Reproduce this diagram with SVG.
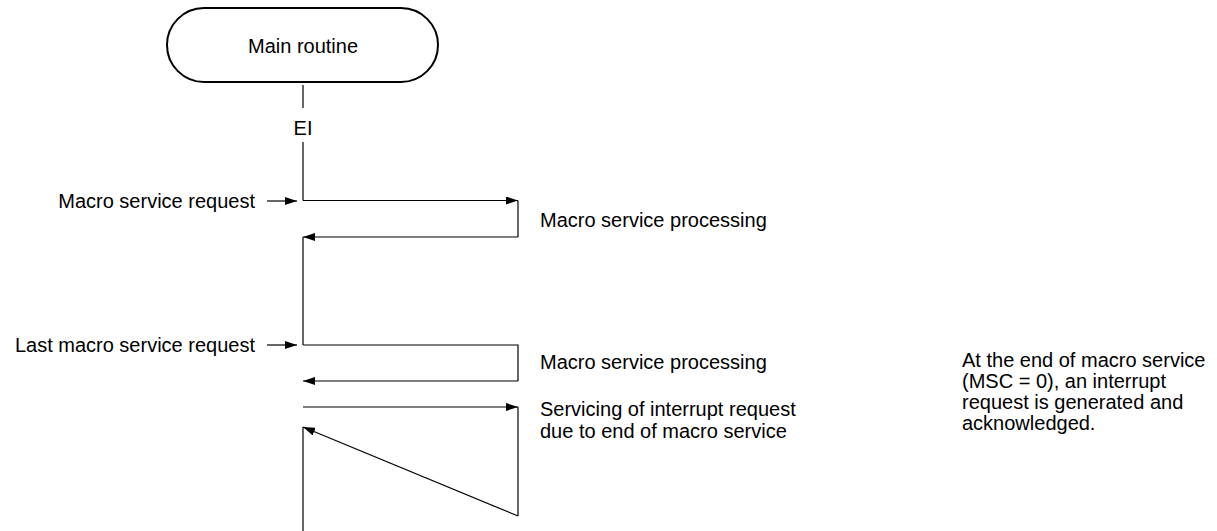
<svg xmlns="http://www.w3.org/2000/svg" width="1217" height="531" viewBox="0 0 1217 531">
<style>
text{font-family:"Liberation Sans",Arial,sans-serif;font-size:20px;fill:#000}
.ln{stroke:#000;stroke-width:1.2;fill:none}
.ar{stroke:#000;stroke-width:1.2;fill:none;marker-end:url(#ah)}
</style>
<defs>
<marker id="ah" markerUnits="userSpaceOnUse" markerWidth="12" markerHeight="8" refX="12" refY="4" orient="auto">
<path d="M0,0 L12,4 L0,8 Z" fill="#000"/>
</marker>
</defs>
<rect width="1217" height="531" fill="#fff"/>
<g id="main-routine">
<rect x="167" y="8" width="271" height="74" rx="37" ry="37" fill="#fff" stroke="#000" stroke-width="2"/>
<text x="303" y="53" text-anchor="middle">Main routine</text>
</g>
<g id="ei"><text x="303" y="135" text-anchor="middle">EI</text></g>
<g id="label-msr"><text x="255" y="208" text-anchor="end">Macro service request</text></g>
<g id="label-lmsr"><text x="255" y="352" text-anchor="end">Last macro service request</text></g>
<g id="label-msp1"><text x="540" y="227">Macro service processing</text></g>
<g id="label-msp2"><text x="540" y="369">Macro service processing</text></g>
<g id="label-servicing"><text x="540" y="416">Servicing of interrupt request</text><text x="540" y="438">due to end of macro service</text></g>
<g id="note">
<text x="962" y="367">At the end of macro service</text>
<text x="962" y="388">(MSC = 0), an interrupt</text>
<text x="962" y="409">request is generated and</text>
<text x="962" y="430">acknowledged.</text>
</g>
<g id="connectors">
<line class="ln" x1="303" y1="85" x2="303" y2="108"/>
<line class="ln" x1="303" y1="142" x2="303" y2="200.5"/>
<line class="ar" x1="303" y1="200.5" x2="518" y2="200.5"/>
<line class="ln" x1="518" y1="200.5" x2="518" y2="237"/>
<line class="ar" x1="518" y1="237" x2="303" y2="237"/>
<line class="ln" x1="303" y1="237" x2="303" y2="345"/>
<polyline class="ln" points="303,345 518,345 518,381"/>
<line class="ar" x1="518" y1="381" x2="303" y2="381"/>
<line class="ar" x1="303" y1="407" x2="518" y2="407"/>
<line class="ln" x1="518" y1="407" x2="518" y2="516"/>
<line class="ar" x1="518" y1="516" x2="303" y2="427"/>
<line class="ln" x1="303" y1="427" x2="303" y2="531"/>
<line class="ar" x1="267" y1="201" x2="297" y2="201"/>
<line class="ar" x1="267" y1="345" x2="297" y2="345"/>
</g>
</svg>
